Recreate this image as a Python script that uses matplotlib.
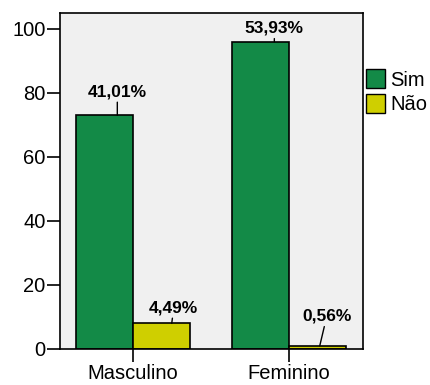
import numpy as np
import matplotlib
matplotlib.use('Agg')
import matplotlib.pyplot as plt
from matplotlib.patches import Patch

plt.rcParams['font.family'] = ['Liberation Sans', 'DejaVu Sans']

categories = ['Masculino', 'Feminino']
sim = [73, 96]
nao = [8, 1]
sim_labels = ['41,01%', '53,93%']
nao_labels = ['4,49%', '0,56%']

green = '#138A47'
yellow = '#CFCF00'

fig = plt.figure(figsize=(4.3, 3.85), dpi=100)
ax = fig.add_axes([60/430, 1 - 349/385, 303/430, 336/385])
ax.set_facecolor('#F0F0F0')

x = np.arange(len(categories))
w = 0.368
ax.bar(x - w/2, sim, w, color=green, edgecolor='black', linewidth=1.2, zorder=2)
ax.bar(x + w/2, nao, w, color=yellow, edgecolor='black', linewidth=1.2, zorder=2)

# label offsets in pixels: (dx of leader on bar, text dx, text dy)
sim_off = [(13, 0, 16), (14, 0, 6)]
nao_off = [(10, 2, 8), (2, 7, 22)]
for i in range(len(categories)):
    for vals, labs, offs, shift in [(sim, sim_labels, sim_off, -w/2), (nao, nao_labels, nao_off, w/2)]:
        px = offs[i][0] / 156.0
        ax.annotate(labs[i], xy=(x[i] + shift + px, vals[i]),
                    xytext=(offs[i][1], offs[i][2]), textcoords='offset pixels',
                    ha='center', va='bottom', fontsize=12.5, fontweight='bold',
                    arrowprops=dict(arrowstyle='-', color='black', lw=1, shrinkA=0, shrinkB=0),
                    zorder=3)

ax.set_xlim(-0.468, 1.474)
ax.set_ylim(0, 105)
ax.set_yticks([0, 20, 40, 60, 80, 100])
ax.set_xticks(x)
ax.set_xticklabels(categories)
ax.tick_params(axis='both', length=9.5, width=1.2, labelsize=14.5, pad=1)
for s in ax.spines.values():
    s.set_linewidth(1.2)

handles = [Patch(facecolor=green, edgecolor='black', label='Sim'),
           Patch(facecolor=yellow, edgecolor='black', label='Não')]
fig.legend(handles=handles, loc='upper left', bbox_to_anchor=(366/430, 1 - 69/385),
           frameon=False, fontsize=14.5, handlelength=0.95, handleheight=1.1,
           handletextpad=0.25, labelspacing=0.2, borderpad=0, borderaxespad=0)

fig.savefig('out.png', dpi=100)
